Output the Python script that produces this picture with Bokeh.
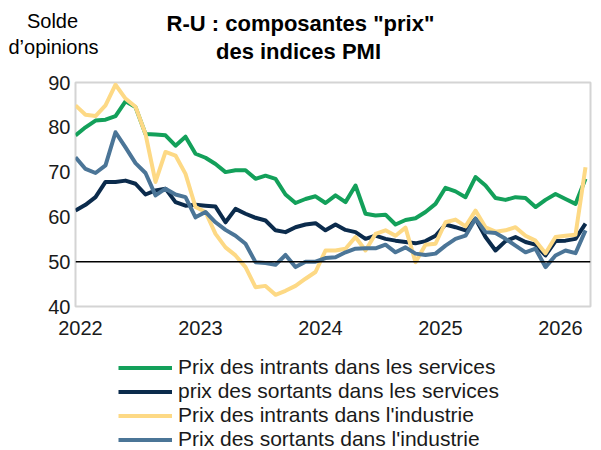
from bokeh.plotting import figure
from bokeh.layouts import column
from bokeh.models import Range1d, FixedTicker, Span, Label, Legend, LegendItem
from bokeh.embed import file_html
from bokeh.resources import INLINE

# Monthly data, Jan 2022 onwards
months = list(range(52))
year_labels = ["2022", "2023", "2024", "2025", "2026"]
year_months = [0, 12, 24, 36, 48]

services_input = [78.2, 80.0, 81.5, 81.7, 82.5, 85.8, 84.5, 78.5, 78.4, 78.2,
                  75.9, 77.9, 74.1, 73.2, 71.8, 70.0, 70.4, 70.4, 68.5, 69.2,
                  68.5, 65.0, 63.1, 64.0, 64.6, 63.1, 64.8, 63.3, 67.0, 60.7,
                  60.3, 60.5, 58.3, 59.3, 59.7, 61.1, 62.9, 66.5, 65.7, 64.4,
                  68.9, 67.0, 64.2, 63.8, 64.4, 64.2, 62.2, 63.8, 65.1, 64.0,
                  62.9, 68.5]
services_output = [61.4, 62.7, 64.4, 67.8, 67.8, 68.1, 67.4, 65.0, 65.9, 66.3,
                   63.3, 62.5, 62.7, 62.5, 62.3, 58.8, 61.8, 60.7, 59.8, 59.2,
                   57.0, 56.6, 57.7, 58.3, 58.6, 57.0, 58.3, 57.1, 56.6, 55.1,
                   55.8, 55.1, 54.7, 54.4, 54.1, 54.6, 55.8, 58.3, 57.7, 57.0,
                   59.6, 55.5, 52.5, 54.6, 55.5, 54.4, 53.8, 51.4, 54.6, 54.7,
                   55.1, 58.5]
industry_input = [84.9, 82.8, 82.5, 84.9, 89.5, 86.4, 84.6, 78.5, 67.8, 74.5,
                  73.7, 69.6, 62.2, 61.1, 56.2, 53.2, 51.4, 48.8, 44.3, 44.6,
                  42.6, 43.5, 44.6, 46.2, 47.7, 52.5, 52.5, 52.9, 55.5, 52.5,
                  56.2, 57.0, 55.8, 57.6, 49.9, 53.8, 54.0, 58.8, 59.4, 57.9,
                  61.4, 57.7, 56.7, 57.0, 57.7, 55.8, 54.7, 51.9, 55.5, 55.8,
                  56.0, 71.1]
industry_output = [73.3, 70.7, 69.8, 71.5, 78.9, 75.5, 72.0, 69.8, 64.8, 66.3,
                   65.0, 64.4, 59.9, 61.1, 58.8, 57.1, 55.8, 54.0, 49.9, 49.7,
                   49.3, 51.5, 48.8, 50.0, 50.0, 50.8, 51.0, 52.1, 52.9, 53.0,
                   53.0, 53.8, 52.1, 53.2, 51.8, 51.5, 51.8, 53.6, 55.1, 55.8,
                   59.6, 56.6, 56.4, 55.1, 53.6, 52.1, 52.9, 48.8, 51.4, 52.5,
                   51.9, 57.0]

series = [services_input, services_output, industry_input, industry_output]
series_names = ["Prix des intrants dans les services",
                "prix des sortants dans les services",
                "Prix des intrants dans l'industrie",
                "Prix des sortants dans l'industrie"]
series_colors = ["#13a05a", "#0b2b4c", "#fdd985", "#4b7597"]
reference_level = 50

FONT = "Liberation Sans"
W = 598
LINE_W = 4
HEAD_H = 70
MAIN_H = 274
LEG_H = 450 - HEAD_H - MAIN_H


def blank_figure(h, xr):
    f = figure(width=W, height=h, output_backend="svg", toolbar_location=None,
               x_range=xr, y_range=Range1d(0, h),
               min_border=0, min_border_left=0, min_border_right=0,
               min_border_top=0, min_border_bottom=0)
    f.axis.visible = False
    f.grid.visible = False
    f.outline_line_color = None
    if "frame_align" in f.properties():
        f.frame_align = False
    return f


# ---------- header ----------
head = blank_figure(HEAD_H, Range1d(0, W))


def add_text(fig, txt, x, y, size, bold=False):
    fig.add_layout(Label(x=x, y=y, text=txt, text_font=FONT, text_font_size=size,
                         text_font_style="bold" if bold else "normal",
                         text_align="center", text_baseline="middle",
                         text_color="#000000"))


add_text(head, 'R-U : composantes "prix"', 300, HEAD_H - 23, "22px", True)
add_text(head, "des indices PMI", 298, HEAD_H - 51, "22px", True)
add_text(head, "Solde", 52, HEAD_H - 20, "20px")
add_text(head, "d\u2019opinions", 53, HEAD_H - 46, "20px")

# ---------- main plot ----------
p = figure(width=W, height=MAIN_H, output_backend="svg", toolbar_location=None,
           x_range=Range1d(0, 51.5), y_range=Range1d(40, 90),
           min_border_left=75, min_border_right=W - 590, min_border_top=12,
           min_border_bottom=MAIN_H - 12 - 224)
if "frame_align" in p.properties():
    p.frame_align = False

p.outline_line_color = "#d4d4d4"
p.outline_line_width = 2
p.xgrid.visible = False
p.ygrid.visible = False

tick_pos = [m + 0.5 for m in year_months]
p.xaxis.ticker = FixedTicker(ticks=tick_pos)
p.xaxis.major_label_overrides = {t: l for t, l in zip(tick_pos, year_labels)}
p.yaxis.ticker = FixedTicker(ticks=[40, 50, 60, 70, 80, 90])
for ax in (p.xaxis[0], p.yaxis[0]):
    ax.axis_line_color = None
    ax.major_tick_line_color = None
    ax.minor_tick_line_color = None
    ax.major_tick_in = 0
    ax.major_tick_out = 0
    ax.major_label_text_font = FONT
    ax.major_label_text_font_size = "20px"
    ax.major_label_text_color = "#1a1a1a"
p.yaxis.major_label_standoff = 5
p.xaxis.major_label_standoff = 14

p.add_layout(Span(location=reference_level, dimension="width",
                  line_color="black", line_width=1.5))

for ys, c in zip(series, series_colors):
    p.line(months, ys, line_color=c, line_width=LINE_W, line_join="round")

# ---------- legend (own figure; its lines lie outside its visible range) ----------
leg = blank_figure(LEG_H, Range1d(1000, 1000 + W))
items = []
for ys, n, c in zip(series, series_names, series_colors):
    r = leg.line(months, ys, line_color=c, line_width=LINE_W)
    items.append(LegendItem(label=n, renderers=[r]))
legend = Legend(items=items, location=(118, -1), orientation="vertical",
                glyph_width=54, glyph_height=23, label_height=23, spacing=0,
                padding=0, margin=0, label_standoff=6,
                label_text_font=FONT, label_text_font_size="21px",
                label_text_color="#1a1a1a", label_text_baseline="middle",
                border_line_color=None, background_fill_alpha=0)
leg.add_layout(legend, "center")

layout = column(head, p, leg, spacing=0)
open("out.html", "w").write(file_html(layout, INLINE))
